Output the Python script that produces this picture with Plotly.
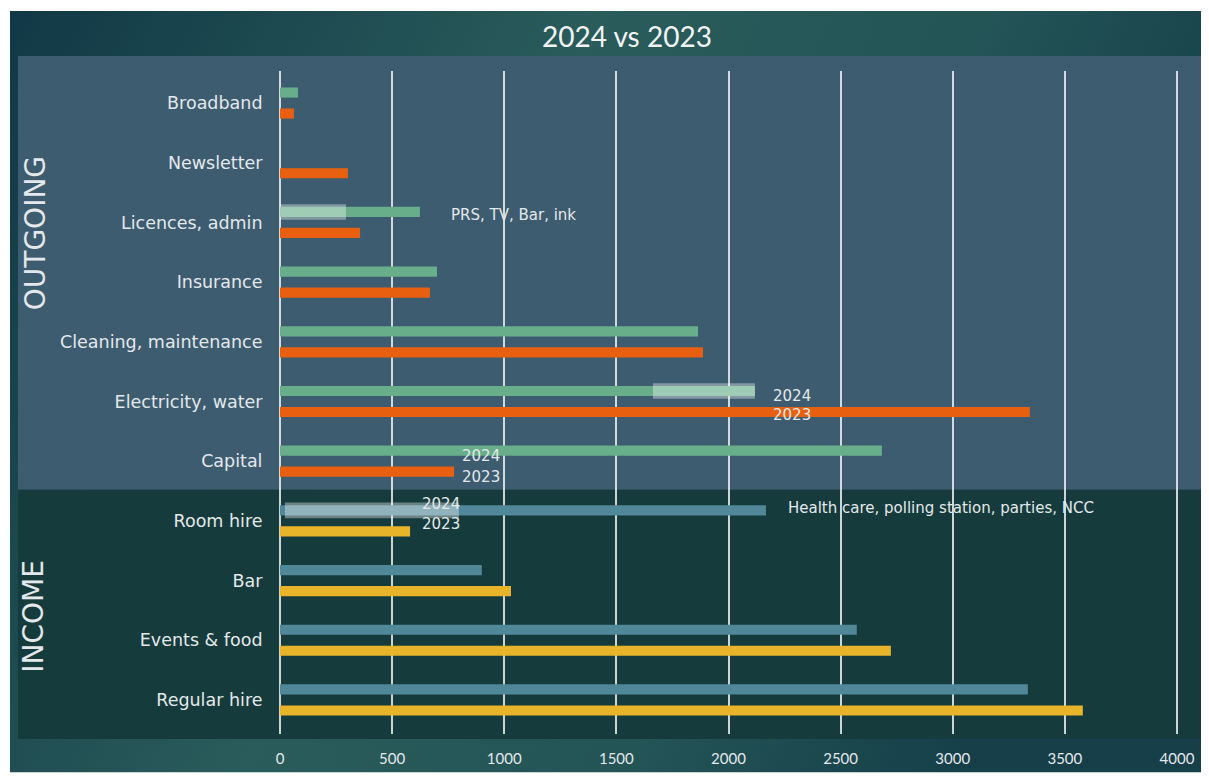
import base64
import plotly.graph_objects as go

# ---------------- data ----------------
categories = ["Broadband", "Newsletter", "Licences, admin", "Insurance",
              "Cleaning, maintenance", "Electricity, water", "Capital",
              "Room hire", "Bar", "Events & food", "Regular hire"]
section = ["out"] * 7 + ["in"] * 4
values_2024 = [80, 0, 624, 700, 1864, 2118, 2684, 2167, 900, 2572, 3335]
values_2023 = [62, 303, 357, 669, 1886, 3344, 776, 580, 1030, 2724, 3580]

highlight_cats = ["Licences, admin", "Electricity, water", "Room hire"]
highlight_start = [0, 1663, 22]
highlight_end = [294, 2118, 798]

x_ticks = [0, 500, 1000, 1500, 2000, 2500, 3000, 3500, 4000]

# ---------------- styling ----------------
COL_OUT_24 = "#68AE8B"
COL_OUT_23 = "#E8600F"
COL_IN_24 = "#508799"
COL_IN_23 = "#E8B42A"
TXT = "#E4E8EA"
FONT = "Lato"
FONT_W = "DejaVu Sans"

# screen -> figure coordinate conversion (capture is slightly squeezed vertically)
SX, SY = 1.0, 0.989


def fx(sx):
    return sx / SX - 8


def fy(sy):
    return sy / SY - 8


W_FIG, H_FIG = 1201, 771
PAD_PX = 2
X0_S, X1_S = 280, 1177          # screen px of 0 and 4000
T_S, B_S = 70, 732              # screen px of plot top / bottom
L = fx(X0_S - PAD_PX)
R = fx(X1_S + PAD_PX)
T = fy(T_S)
B = fy(B_S)
PW, PH = R - L, B - T
XPAD = PAD_PX * 4000 / (X1_S - X0_S)


def px(sx):
    return (fx(sx) - L) / PW


def py(sy):
    return 1 - (fy(sy) - T) / PH


idx = list(range(len(categories)))
c24 = [COL_OUT_24 if s == "out" else COL_IN_24 for s in section]
c23 = [COL_OUT_23 if s == "out" else COL_IN_23 for s in section]

BW = 0.17
OFF = 0.176

fig = go.Figure()
fig.add_trace(go.Bar(orientation="h", y=idx, x=values_2024, width=BW,
                     offset=-OFF - BW / 2, marker=dict(color=c24, line=dict(width=0)),
                     hoverinfo="skip"))
fig.add_trace(go.Bar(orientation="h", y=idx, x=values_2023, width=BW,
                     offset=OFF - BW / 2, marker=dict(color=c23, line=dict(width=0)),
                     hoverinfo="skip"))
hl_idx = [categories.index(c) for c in highlight_cats]
HW = 0.26
fig.add_trace(go.Bar(orientation="h", y=hl_idx,
                     x=[e - s for s, e in zip(highlight_start, highlight_end)],
                     base=highlight_start, width=HW, offset=-OFF - HW / 2,
                     marker=dict(color="rgba(255,255,255,0.37)", line=dict(width=0)),
                     hoverinfo="skip"))

# background gradient (svg data uri)
svg = '''<svg xmlns="http://www.w3.org/2000/svg" width="1200" height="760" preserveAspectRatio="none">
<defs><linearGradient id="g" x1="0" y1="0" x2="1" y2="0.3">
<stop offset="0" stop-color="#113846"/>
<stop offset="0.45" stop-color="#2A5C5B"/>
<stop offset="0.75" stop-color="#235456"/>
<stop offset="1" stop-color="#163F4A"/>
</linearGradient></defs>
<rect width="1200" height="760" fill="url(#g)"/></svg>'''
uri = "data:image/svg+xml;base64," + base64.b64encode(svg.encode()).decode()

bg_x0, bg_y0 = fx(10), fy(10)
fig.add_layout_image(dict(source=uri, xref="paper", yref="paper",
                          x=(bg_x0 - L) / PW, y=1 - (bg_y0 - T) / PH,
                          sizex=(W_FIG - bg_x0) / PW, sizey=(H_FIG - bg_y0) / PH,
                          xanchor="left", yanchor="top", sizing="stretch", layer="below"))

shapes = [
    dict(type="rect", xref="paper", yref="paper", x0=px(18), x1=(W_FIG - L) / PW,
         y0=py(55), y1=py(488), fillcolor="#3D5C70", line=dict(width=0), layer="below"),
    dict(type="rect", xref="paper", yref="paper", x0=px(18), x1=(W_FIG - L) / PW,
         y0=py(488), y1=py(737), fillcolor="#163B3C", line=dict(width=0), layer="below"),
]

ann_font = dict(family=FONT_W, size=15, color=TXT)
annotations = [
    dict(text="2024 vs 2023", xref="paper", yref="paper", x=px(627), y=py(35),
         showarrow=False, font=dict(family=FONT, size=28, color="#F2F4F4"),
         xanchor="center", yanchor="middle"),
    dict(text="OUTGOING", xref="paper", yref="paper", x=px(35), y=py(232),
         textangle=-90, showarrow=False, font=dict(family=FONT_W, size=28, color=TXT),
         xanchor="center", yanchor="middle"),
    dict(text="INCOME", xref="paper", yref="paper", x=px(34), y=py(614),
         textangle=-90, showarrow=False, font=dict(family=FONT_W, size=28, color=TXT),
         xanchor="center", yanchor="middle"),
]

notes = [
    ("PRS, TV, Bar, ink", 754, "Licences, admin", -0.12),
    ("2024", 2190, "Electricity, water", -0.10),
    ("2023", 2190, "Electricity, water", 0.22),
    ("2024", 803, "Capital", -0.08),
    ("2023", 803, "Capital", 0.26),
    ("2024", 624, "Room hire", -0.29),
    ("2023", 624, "Room hire", 0.05),
    ("Health care, polling station, parties, NCC", 2256, "Room hire", -0.22),
]
for text, xv, cat, dy in notes:
    annotations.append(dict(text=text, x=xv, y=categories.index(cat) + dy,
                            xref="x", yref="y", showarrow=False, font=ann_font,
                            xanchor="left", yanchor="middle"))

SPACING = 59.6          # screen px per category
FIRST = 102             # screen y of first category
top_idx = (T_S - FIRST) / SPACING
bot_idx = (B_S - FIRST) / SPACING

fig.update_layout(
    width=W_FIG, height=H_FIG,
    margin=dict(l=L, r=W_FIG - R, t=T, b=H_FIG - B, pad=0),
    paper_bgcolor="white", plot_bgcolor="rgba(0,0,0,0)",
    barmode="overlay", showlegend=False,
    shapes=shapes, annotations=annotations,
    xaxis=dict(range=[-XPAD, 4000 + XPAD], tickvals=x_ticks, showgrid=True,
               gridcolor="rgba(236,240,240,0.85)", gridwidth=2,
               zeroline=True, zerolinecolor="rgba(236,240,240,0.85)", zerolinewidth=2,
               showline=False, ticks="outside", ticklen=11,
               tickcolor="rgba(0,0,0,0)",
               tickfont=dict(family=FONT, size=15, color=TXT), fixedrange=True),
    yaxis=dict(range=[bot_idx, top_idx], tickvals=idx, ticktext=categories,
               showgrid=False, zeroline=False, showline=False,
               ticks="outside", ticklen=11, tickcolor="rgba(0,0,0,0)",
               tickfont=dict(family=FONT_W, size=17.5, color=TXT), fixedrange=True),
    font=dict(family=FONT, color=TXT),
)

fig.write_html("out.html", config={"displayModeBar": False})
